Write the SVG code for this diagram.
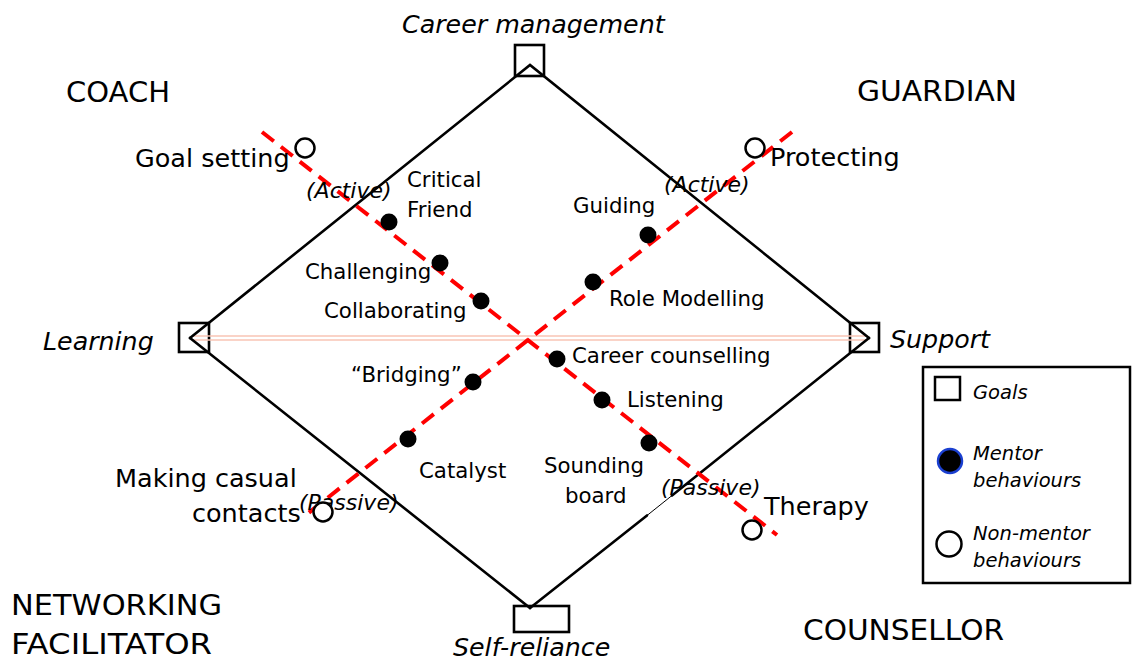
<svg xmlns="http://www.w3.org/2000/svg" width="1134" height="663" viewBox="0 0 1134 663">
<style>
  text { font-family: "DejaVu Sans", Verdana, sans-serif; fill: #000; }
  .big { font-size: 25.5px; }
  .med { font-size: 21.3px; }
  .quad { font-size: 29px; }
  .goal { font-size: 25.3px; font-style: italic; }
  .mode { font-size: 22px; font-style: italic; }
  .leg { font-size: 19.5px; font-style: italic; }
  .edge { stroke: #000; stroke-width: 2.6; fill: none; stroke-linecap: round; }
  .axis { stroke: #ff0000; stroke-width: 4; stroke-dasharray: 15 9; fill: none; }
  .pink { stroke: #f8c4b4; stroke-width: 1.5; fill: none; }
  .box { fill: #fff; stroke: #000; stroke-width: 2.6; }
  .dot { fill: #000; }
  .open { fill: #fff; stroke: #000; stroke-width: 2.5; }
</style>
<rect width="1134" height="663" fill="#fff"/>

<!-- goal boxes (under lines) -->
<g id="goal-career-management">
  <rect class="box" x="515" y="45" width="29" height="31"/>
  <text class="goal" x="402" y="33">Career management</text>
</g>
<g id="goal-learning">
  <rect class="box" x="179" y="323" width="30" height="29"/>
  <text class="goal" x="43" y="350">Learning</text>
</g>
<g id="goal-support">
  <rect class="box" x="850" y="323" width="29" height="29"/>
  <text class="goal" x="890" y="348">Support</text>
</g>
<g id="goal-self-reliance">
  <rect class="box" x="514" y="606" width="55" height="26"/>
  <text class="goal" x="453" y="656">Self-reliance</text>
</g>

<g id="connectors">
  <line class="pink" x1="193" y1="336" x2="868" y2="336"/>
  <line class="pink" x1="193" y1="340" x2="868" y2="340"/>
  <polyline class="edge" points="190,338 530,65 869,338"/>
  <line class="edge" x1="190" y1="338" x2="530" y2="608"/>
  <line class="edge" x1="530" y1="608" x2="647" y2="515.5"/>
  <line stroke="#000" stroke-width="1" x1="647" y1="515.5" x2="672" y2="495.5"/>
  <line class="edge" x1="672" y1="495.5" x2="869" y2="338"/>
  <line class="axis" x1="262" y1="132" x2="777" y2="535"/>
  <line class="axis" x1="792" y1="132" x2="302" y2="518"/>
</g>

<g id="quadrant-coach"><text class="quad" x="66" y="102" textLength="104" lengthAdjust="spacingAndGlyphs">COACH</text></g>
<g id="quadrant-guardian"><text class="quad" x="857" y="101" textLength="160" lengthAdjust="spacingAndGlyphs">GUARDIAN</text></g>
<g id="quadrant-networking-facilitator">
  <text class="quad" x="11" y="615" textLength="211" lengthAdjust="spacingAndGlyphs">NETWORKING</text>
  <text class="quad" x="11" y="654" textLength="201" lengthAdjust="spacingAndGlyphs">FACILITATOR</text>
</g>
<g id="quadrant-counsellor"><text class="quad" x="803" y="640" textLength="201" lengthAdjust="spacingAndGlyphs">COUNSELLOR</text></g>

<g id="mode-active-left"><text class="mode" x="306" y="198">(Active)</text></g>
<g id="mode-active-right"><text class="mode" x="664" y="192">(Active)</text></g>
<g id="mode-passive-right"><text class="mode" x="661" y="495">(Passive)</text></g>
<g id="mode-passive-left"><text class="mode" x="299" y="510">(Passive)</text></g>

<g id="goal-setting">
  <circle class="open" cx="305" cy="148" r="9.5"/>
  <text class="big" x="135" y="167">Goal setting</text>
</g>
<g id="protecting">
  <circle class="open" cx="755" cy="148" r="9.5"/>
  <text class="big" x="770" y="166">Protecting</text>
</g>
<g id="making-casual-contacts">
  <circle class="open" cx="323" cy="512" r="9.5"/>
  <text class="big" x="115" y="487">Making casual</text>
  <text class="big" x="192" y="522">contacts</text>
</g>
<g id="therapy">
  <circle class="open" cx="752" cy="530" r="9.5"/>
  <text class="big" x="764" y="515">Therapy</text>
</g>

<g id="critical-friend">
  <circle class="dot" cx="389" cy="222" r="8.5"/>
  <text class="med" x="407" y="187">Critical</text>
  <text class="med" x="407" y="217">Friend</text>
</g>
<g id="challenging">
  <circle class="dot" cx="440" cy="263" r="8.5"/>
  <text class="med" x="305" y="279">Challenging</text>
</g>
<g id="collaborating">
  <circle class="dot" cx="481" cy="301" r="8.5"/>
  <text class="med" x="324" y="318">Collaborating</text>
</g>
<g id="career-counselling">
  <circle class="dot" cx="557" cy="359" r="8.5"/>
  <text class="med" x="572" y="363">Career counselling</text>
</g>
<g id="listening">
  <circle class="dot" cx="602" cy="400" r="8.5"/>
  <text class="med" x="627" y="407">Listening</text>
</g>
<g id="sounding-board">
  <circle class="dot" cx="649" cy="443" r="8.5"/>
  <text class="med" x="544" y="473">Sounding</text>
  <text class="med" x="565" y="503">board</text>
</g>
<g id="guiding">
  <circle class="dot" cx="648" cy="235" r="8.5"/>
  <text class="med" x="573" y="213">Guiding</text>
</g>
<g id="role-modelling">
  <circle class="dot" cx="593" cy="282" r="8.5"/>
  <text class="med" x="609" y="306">Role Modelling</text>
</g>
<g id="bridging">
  <circle class="dot" cx="473" cy="382" r="8.5"/>
  <text class="med" x="351" y="382">“Bridging”</text>
</g>
<g id="catalyst">
  <circle class="dot" cx="408" cy="439" r="8.5"/>
  <text class="med" x="419" y="478">Catalyst</text>
</g>

<g id="legend">
  <rect x="923" y="367" width="207" height="216" fill="#fff" stroke="#000" stroke-width="2.5"/>
  <rect x="935" y="377" width="25" height="23" fill="#fff" stroke="#000" stroke-width="2.5"/>
  <text class="leg" x="973" y="399">Goals</text>
  <circle cx="950" cy="461" r="12" fill="#000" stroke="#1a3fd0" stroke-width="2.5"/>
  <text class="leg" x="973" y="460">Mentor</text>
  <text class="leg" x="973" y="487">behaviours</text>
  <circle cx="949" cy="544" r="12.5" fill="#fff" stroke="#000" stroke-width="2.5"/>
  <text class="leg" x="973" y="540">Non-mentor</text>
  <text class="leg" x="973" y="567">behaviours</text>
</g>
</svg>
